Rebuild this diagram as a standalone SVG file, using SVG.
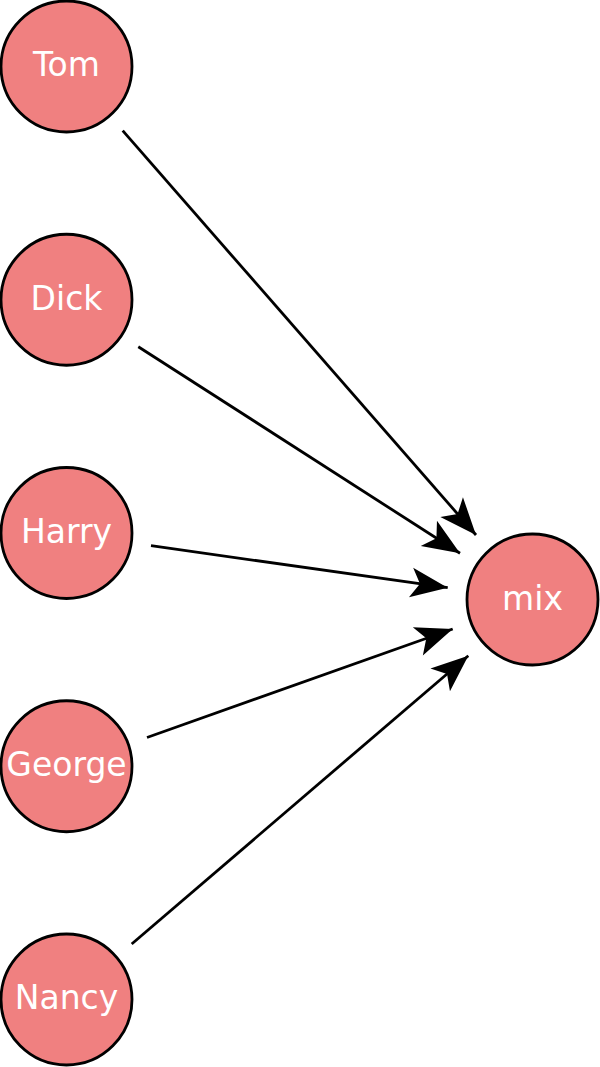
<svg xmlns="http://www.w3.org/2000/svg" width="600" height="1067" viewBox="0 0 600 1067">
<style>
.node circle{fill:#F08080;stroke:#000;stroke-width:2.8}
.node text{fill:#fff;font-family:"DejaVu Sans",sans-serif;font-size:33px;text-anchor:middle}
.edges line{stroke:#000;stroke-width:2.8;marker-end:url(#arr)}
</style>
<defs>
<marker id="arr" markerUnits="userSpaceOnUse" orient="auto" refX="0" refY="0" markerWidth="40" markerHeight="34" overflow="visible">
<path d="M0,0 L-37,-15 L-28,0 L-37,15 Z" fill="#000"/>
</marker>
</defs>
<rect width="600" height="1067" fill="#fff"/>
<g class="edges">
<line x1="122.7" y1="130.7" x2="476" y2="535"/>
<line x1="138.3" y1="346.7" x2="460" y2="553.3"/>
<line x1="151" y1="545.7" x2="447.7" y2="587.7"/>
<line x1="147" y1="737.5" x2="452.7" y2="629"/>
<line x1="131.7" y1="944" x2="468.3" y2="655.7"/>
</g>
<g id="Tom" class="node"><circle cx="66.5" cy="66.5" r="65.5"/><text x="66.5" y="76">Tom</text></g>
<g id="Dick" class="node"><circle cx="66.5" cy="299.75" r="65.5"/><text x="66.5" y="309.5">Dick</text></g>
<g id="Harry" class="node"><circle cx="66.5" cy="533" r="65.5"/><text x="66.5" y="542.5">Harry</text></g>
<g id="George" class="node"><circle cx="66.5" cy="766.25" r="65.5"/><text x="66.5" y="776">George</text></g>
<g id="Nancy" class="node"><circle cx="66.5" cy="999.5" r="65.5"/><text x="66.5" y="1009">Nancy</text></g>
<g id="mix" class="node"><circle cx="532.5" cy="599.5" r="65.5"/><text x="532.5" y="609.5">mix</text></g>
</svg>
